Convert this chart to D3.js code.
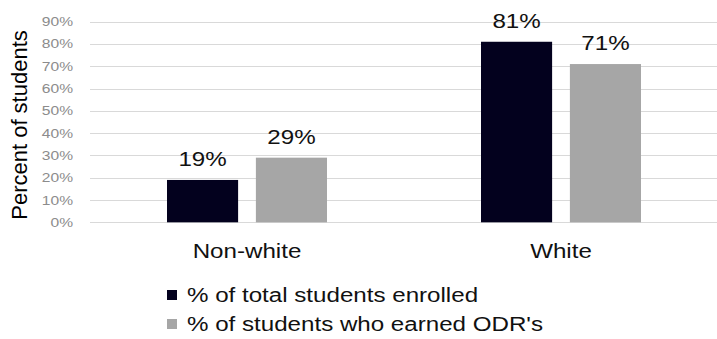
<!DOCTYPE html>
<html lang="en">
<head>
<meta charset="UTF-8" />
<title>Percent of students</title>
<script src="https://cdn.jsdelivr.net/npm/d3@7"></script>
<style>
  body { margin: 0; background: #fff; }
  svg { display: block; font-family: "Liberation Sans", Arial, sans-serif; }
</style>
</head>
<body>
<div id="chart"></div>
<script>
// data
const categories = ["Non-white", "White"];
const seriesNames = ["% of total students enrolled", "% of students who earned ODR's"];
const enrolled = [19, 81];
const earnedODR = [29, 71];
const yTicks = [0, 10, 20, 30, 40, 50, 60, 70, 80, 90];
const seriesColors = ["#03011e", "#a6a6a6"];

const width = 717, height = 339;
const sx = 1.15; // text in the original is a bit wide

const svg = d3.select("#chart").append("svg")
  .attr("width", width)
  .attr("height", height);

const x = d3.scaleBand().domain(categories).range([90, 718]);
const x1 = d3.scaleBand().domain(seriesNames).range([77, 237]).paddingInner(0.2);
const y = d3.scaleLinear().domain([0, 90]).range([222.3, 21.7]);

// stretched text helper
function label(g, tx, ty, txt, size, color, anchor, scale) {
  g.append("text")
    .attr("transform", `translate(${tx},${ty}) scale(${scale},1)`)
    .attr("text-anchor", anchor)
    .attr("font-size", size)
    .attr("fill", color)
    .text(txt);
}

// gridlines
svg.append("g").selectAll("line")
  .data(yTicks)
  .enter().append("line")
  .attr("x1", 90).attr("x2", width)
  .attr("y1", d => Math.round(y(d)) + 0.5)
  .attr("y2", d => Math.round(y(d)) + 0.5)
  .attr("stroke", "#d9d9d9")
  .attr("stroke-width", 1);

// y tick labels
const yl = svg.append("g");
yTicks.forEach(t => label(yl, 73, y(t) + 4.5, t + "%", 13, "#8c8c8c", "end", 1.2));

// y axis title
svg.append("text")
  .attr("transform", `translate(27,125) rotate(-90)`)
  .attr("text-anchor", "middle")
  .attr("font-size", 22)
  .attr("fill", "#000")
  .text("Percent of students");

// bars
const rows = categories.map((c, i) => ({
  cat: c,
  vals: [enrolled[i], earnedODR[i]]
}));

const groups = svg.selectAll(".grp")
  .data(rows)
  .enter().append("g")
  .attr("transform", d => `translate(${x(d.cat)},0)`);

groups.selectAll("rect")
  .data(d => d.vals.map((v, j) => ({ s: seriesNames[j], v: v, j: j })))
  .enter().append("rect")
  .attr("x", d => x1(d.s))
  .attr("y", d => y(d.v))
  .attr("width", x1.bandwidth())
  .attr("height", d => y(0) - y(d.v))
  .attr("fill", d => seriesColors[d.j]);

// value labels
groups.each(function(d) {
  const g = d3.select(this);
  d.vals.forEach((v, j) => {
    label(g, x1(seriesNames[j]) + x1.bandwidth() / 2, y(v) - 14, v + "%", 21, "#111", "middle", sx);
  });
});

// category labels
const cl = svg.append("g");
categories.forEach(c => label(cl, x(c) + x.bandwidth() / 2, 258, c, 21, "#111", "middle", sx));

// legend
const leg = svg.append("g");
seriesNames.forEach((s, i) => {
  const ly = 290 + i * 29;
  leg.append("rect")
    .attr("x", 167).attr("y", ly)
    .attr("width", 10).attr("height", 10)
    .attr("fill", seriesColors[i]);
  label(leg, 187, ly + 12, s, 21, "#111", "start", sx);
});
</script>
</body>
</html>
